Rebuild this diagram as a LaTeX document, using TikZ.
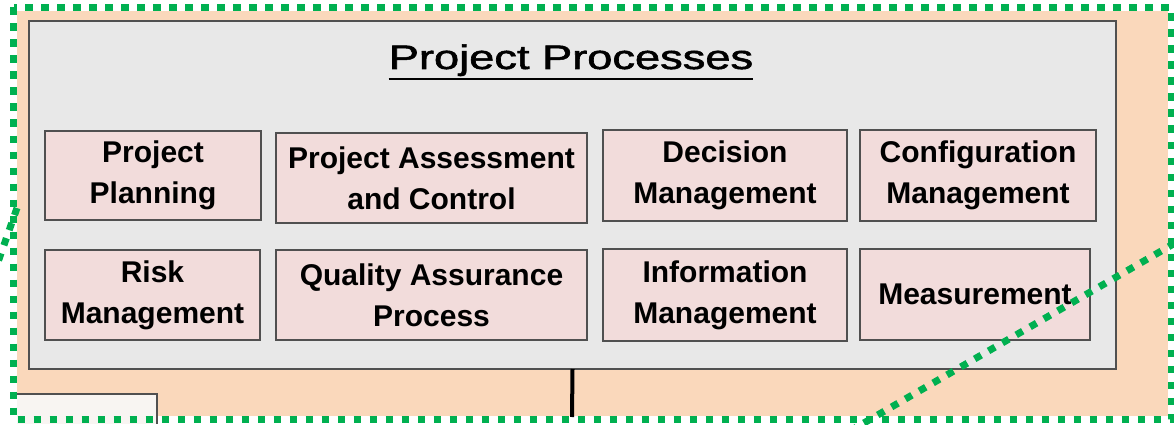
\documentclass[tikz,border=0pt]{standalone}
\usepackage{fontspec}
\setmainfont{Liberation Sans}
\newfontfamily\titlefont[FakeBold=1.5]{Liberation Sans}
\definecolor{peach}{RGB}{250,216,187}
\definecolor{panelfill}{RGB}{232,232,232}
\definecolor{pinkfill}{RGB}{242,220,219}
\definecolor{grn}{RGB}{0,176,80}
\definecolor{edge}{RGB}{80,80,80}
\definecolor{stubfill}{RGB}{248,245,242}
\begin{document}
\begin{tikzpicture}[x=1pt,y=-1pt,
  pbox/.style={draw=edge, line width=1.5pt, fill=pinkfill, align=center,
    inner sep=0pt, outer sep=0pt, anchor=north west,
    font=\fontsize{30}{41}\selectfont\bfseries},
  greendots/.style={draw=grn, line width=7pt, dash pattern=on 7.5pt off 8.5pt}]
\useasboundingbox (0,0) rectangle (1174,425);
\begin{scope}
\clip (0,0) rectangle (1174,425);
% background
\node (bg) [fill=peach, anchor=north west, inner sep=0, outer sep=0,
  minimum width=1151pt, minimum height=405pt] at (17,11) {};
% white stub at bottom left
\node (stub) [fill=stubfill, anchor=north west, inner sep=0, outer sep=0,
  minimum width=140pt, minimum height=30pt] at (17,394) {};
\draw[edge, line width=1.5pt] (stub.north west) -- (stub.north east) -- (stub.south east);
% panel
\node (panel) [draw=edge, line width=2pt, fill=panelfill, anchor=north west,
  inner sep=0, outer sep=0, minimum width=1087pt, minimum height=348pt] at (29,21) {};
% title
\node (title) [anchor=base, inner sep=0pt, font=\titlefont\fontsize{34}{40}\selectfont]
  at (571,69) {\scalebox{1.33}[1]{Project Processes}};
\draw[line width=2.5pt] ([yshift=-10pt]title.base west) -- ([yshift=-10pt]title.base east);
% process boxes
\node[pbox, minimum width=216pt, minimum height=89pt] (pp) at (45,131) {Project\\Planning};
\node[pbox, minimum width=311pt, minimum height=90pt] (pac) at (276,133) {Project Assessment\\and Control};
\node[pbox, minimum width=244pt, minimum height=91pt] (dm) at (603,130) {Decision\\Management};
\node[pbox, minimum width=236pt, minimum height=91pt] (cm) at (860,130) {Configuration\\Management};
\node[pbox, minimum width=215pt, minimum height=90pt] (rm) at (45,250) {Risk\\Management};
\node[pbox, minimum width=311pt, minimum height=90pt] (qa) at (276,250) {Quality Assurance\\Process};
\node[pbox, minimum width=244pt, minimum height=92pt] (im) at (603,249) {Information\\Management};
\node[pbox, minimum width=230pt, minimum height=91pt] (ms) at (860,249) {Measurement};
% connector down from panel
\coordinate (busend) at (572,417);
\draw[line width=4pt] (panel.south) -- (busend);
% green dotted frame and lines
\draw[greendots] (13.5,7.5) rectangle (1171,419.5);
\coordinate (la) at (17,208);
\coordinate (lb) at (-2,262);
\draw[greendots] (la) -- (lb);
\coordinate (ra) at (850,431);
\coordinate (rb) at (1182,239);
\draw[greendots] (ra) -- (rb);
\end{scope}
\end{tikzpicture}
\end{document}
